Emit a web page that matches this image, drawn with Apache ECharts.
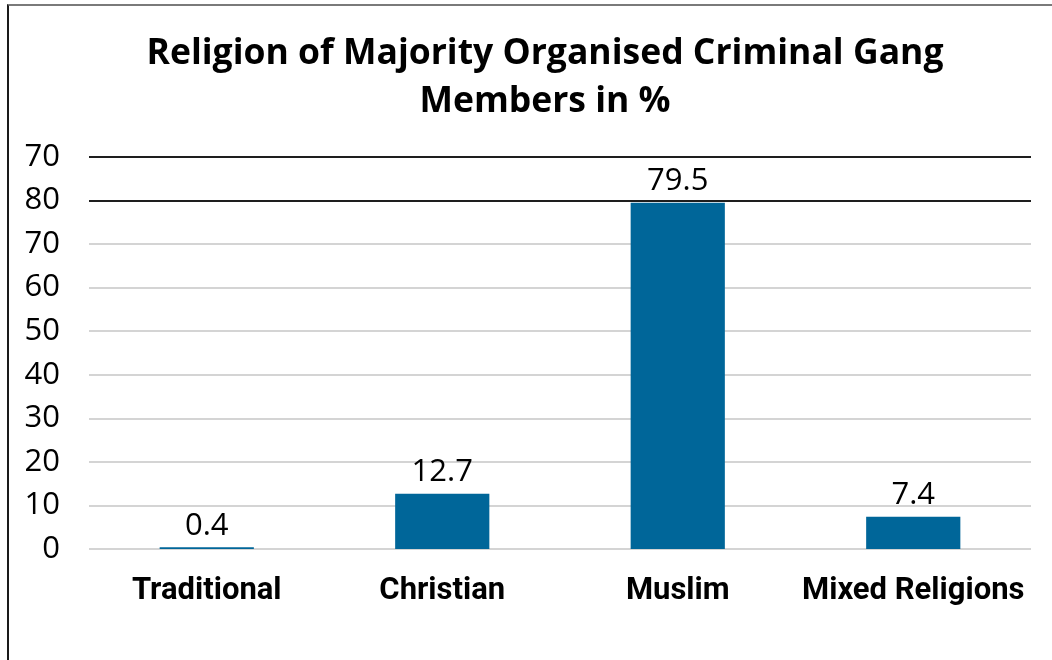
<!DOCTYPE html>
<html>
<head>
<meta charset="utf-8">
<style>
  html, body { margin: 0; padding: 0; background: #fff; overflow: hidden; }
  #frame { position: absolute; left: 7px; top: 4px; width: 1200px; height: 800px;
           border-top: 2px solid #7a7a7a; border-left: 2px solid #1a1a1a; }
  #chart { position: absolute; left: 0; top: 0; width: 1052px; height: 660px; }
</style>
<script src="https://cdn.jsdelivr.net/npm/echarts@6/dist/echarts.min.js"></script>
</head>
<body>
<div id="frame"></div>
<div id="chart"></div>
<script>
// Religion breakdown of majority organised criminal gang members (%)
const categories = ['Traditional', 'Christian', 'Muslim', 'Mixed Religions'];
const shares = [0.4, 12.7, 79.5, 7.4];
// Axis tick labels as printed, from 0 upward
const tickLabels = ['0', '10', '20', '30', '40', '50', '60', '70', '80', '70'];

const gridColors = ['#d4d4d4', '#d4d4d4', '#d4d4d4', '#d4d4d4', '#d4d4d4',
                    '#d4d4d4', '#d4d4d4', '#d4d4d4', '#1e1e1e', '#1e1e1e'];

const chart = echarts.init(document.getElementById('chart'), null, { renderer: 'canvas' });
chart.setOption({
  backgroundColor: 'transparent',
  animation: false,
  title: {
    text: 'Religion of Majority Organised Criminal Gang\nMembers in %',
    left: 540,
    textAlign: 'center',
    top: 25,
    textStyle: {
      fontFamily: '"Open Sans", sans-serif',
      fontWeight: 'bold',
      fontSize: 35.5,
      lineHeight: 48,
      color: '#000'
    }
  },
  grid: { left: 89, right: 21, top: 157, bottom: 111 },
  xAxis: {
    type: 'category',
    data: categories,
    axisLine: { show: false },
    axisTick: { show: false },
    axisLabel: {
      interval: 0,
      margin: 27,
      fontFamily: 'Roboto, sans-serif',
      fontWeight: 'bold',
      fontSize: 31,
      color: '#000'
    }
  },
  yAxis: {
    type: 'value',
    min: 0,
    max: 90,
    interval: 10,
    axisLine: { show: false },
    axisTick: { show: false },
    axisLabel: {
      margin: 29,
      fontFamily: '"Open Sans", "Noto Sans", sans-serif',
      fontSize: 31,
      color: '#000',
      formatter: function (v) { return tickLabels[Math.round(v / 10)]; }
    },
    splitLine: { show: true, lineStyle: { color: gridColors, width: 2 } }
  },
  series: [{
    type: 'bar',
    data: shares,
    barWidth: '40%',
    itemStyle: { color: '#006699' },
    label: {
      show: true,
      position: 'top',
      distance: 6,
      fontFamily: '"Open Sans", "Noto Sans", sans-serif',
      fontSize: 31,
      color: '#000'
    }
  }]
});
</script>
</body>
</html>
